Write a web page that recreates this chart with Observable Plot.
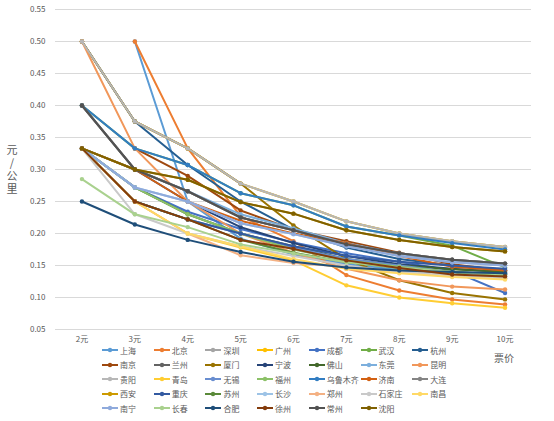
<!DOCTYPE html>
<html>
<head>
<meta charset="utf-8">
<script src="https://cdn.jsdelivr.net/npm/d3@7"></script>
<script src="https://cdn.jsdelivr.net/npm/@observablehq/plot@0.6"></script>
<style>
  html, body { margin: 0; padding: 0; background: #fff; }
  #wrap { position: relative; width: 554px; height: 421px; font-family: "Noto Sans CJK SC", "Noto Sans", sans-serif; color: #595959; overflow: hidden; }
  #chart { position: absolute; left: 0; top: 0; }
  .ytitle { position: absolute; left: 4px; top: 144px; font-size: 11px; writing-mode: vertical-lr; text-orientation: upright; letter-spacing: 2px; color: #595959; }
  .xtitle { position: absolute; left: 494px; top: 350px; font-size: 10px; color: #595959; }
  .leg { position: absolute; display: flex; align-items: center; font-size: 8px; height: 10px; white-space: nowrap; color: #595959; }
  .leg svg { margin-right: 2px; }
</style>
</head>
<body>
<div id="wrap">
  <div id="chart"></div>
  <div class="ytitle">元/公里</div>
  <div class="xtitle">票价</div>
</div>
<script>
// categories
const fares = ["2元", "3元", "4元", "5元", "6元", "7元", "8元", "9元", "10元"];
const yTicks = [0.05, 0.10, 0.15, 0.20, 0.25, 0.30, 0.35, 0.40, 0.45, 0.50, 0.55];
const cities = ["上海","北京","深圳","广州","成都","武汉","杭州",
                "南京","兰州","厦门","宁波","佛山","东莞","昆明",
                "贵阳","青岛","无锡","福州","乌鲁木齐","济南","大连",
                "西安","重庆","苏州","长沙","郑州","石家庄","南昌",
                "南宁","长春","合肥","徐州","常州","沈阳"];
const colors = ["#5B9BD5","#ED7D31","#A5A5A5","#FFC000","#4472C4","#70AD47","#255E91",
                "#9E480E","#636363","#997300","#264478","#43682B","#7CAFDD","#F1975A",
                "#B7B7B7","#FFCD33","#698ED0","#8CC168","#327DC2","#D26012","#848484",
                "#CC9A00","#335AA1","#5A8A39","#9DC3E6","#F4B183","#C9C9C9","#FFD966",
                "#8FAADC","#A9D18E","#1F4E79","#843C0C","#525252","#7F6000"];

// series values (元/公里), one per city, in fare order 2元..10元
const shanghai  = [null, 0.5, 0.25, 0.192, 0.167, 0.152, 0.143, 0.136, 0.132];
const beijing   = [null, 0.5, 0.333, 0.227, 0.188, 0.135, 0.111, 0.097, 0.089];
const shenzhen  = [0.5, 0.375, 0.333, 0.278, 0.25, 0.219, 0.2, 0.188, 0.179];
const guangzhou = [0.5, 0.375, 0.333, 0.278, 0.25, 0.219, 0.2, 0.188, 0.179];
const chengdu   = [0.333, 0.272, 0.234, 0.207, 0.186, 0.169, 0.156, 0.142, 0.107];
const wuhan     = [0.4, 0.333, 0.307, 0.263, 0.244, 0.211, 0.197, 0.181, 0.147];
const hangzhou  = [0.5, 0.375, 0.307, 0.25, 0.206, 0.178, 0.16, 0.15, 0.143];
const nanjing   = [null, 0.333, 0.29, 0.236, 0.206, 0.188, 0.17, 0.152, 0.142];
const lanzhou   = [0.4, 0.3, 0.266, 0.225, 0.205, 0.183, 0.169, 0.159, 0.153];
const xiamen    = [0.5, 0.375, 0.333, 0.278, 0.2125, 0.16, 0.127, 0.107, 0.097];
const ningbo    = [0.333, 0.3, 0.25, 0.21, 0.185, 0.165, 0.152, 0.145, 0.14];
const foshan    = [0.333, 0.272, 0.23, 0.2, 0.18, 0.16, 0.15, 0.144, 0.14];
const dongguan  = [0.333, 0.3, 0.266, 0.23, 0.208, 0.185, 0.168, 0.158, 0.15];
const kunming   = [0.5, 0.333, 0.25, 0.2, 0.17, 0.145, 0.127, 0.117, 0.1125];
const guiyang   = [0.5, 0.375, 0.333, 0.278, 0.25, 0.219, 0.2, 0.188, 0.179];
const qingdao   = [0.333, 0.25, 0.2, 0.178, 0.158, 0.119, 0.1, 0.091, 0.084];
const wuxi      = [0.333, 0.25, 0.222, 0.2, 0.178, 0.16, 0.15, 0.14, 0.135];
const fuzhou    = [0.333, 0.272, 0.23, 0.2, 0.175, 0.158, 0.148, 0.14, 0.135];
const urumqi    = [0.4, 0.333, 0.307, 0.263, 0.244, 0.211, 0.197, 0.185, 0.175];
const jinan     = [0.333, 0.3, 0.25, 0.22, 0.2, 0.185, 0.165, 0.148, 0.142];
const dalian    = [0.4, 0.3, 0.266, 0.225, 0.205, 0.183, 0.169, 0.159, 0.153];
const xian      = [0.333, 0.3, 0.284, 0.249, 0.231, 0.205, 0.19, 0.179, 0.172];
const chongqing = [0.333, 0.25, 0.222, 0.2, 0.18, 0.165, 0.156, 0.15, 0.145];
const suzhou    = [0.333, 0.25, 0.222, 0.19, 0.17, 0.155, 0.146, 0.14, 0.136];
const changsha  = [0.333, 0.272, 0.25, 0.216, 0.199, 0.18, 0.165, 0.155, 0.15];
const zhengzhou = [0.333, 0.25, 0.2, 0.166, 0.154, 0.148, 0.14, 0.135, 0.13];
const shijiazhuang = [0.333, 0.23, 0.2, 0.18, 0.165, 0.15, 0.14, 0.135, 0.13];
const nanchang  = [0.333, 0.25, 0.2, 0.18, 0.16, 0.145, 0.138, 0.132, 0.128];
const nanning   = [0.333, 0.272, 0.25, 0.216, 0.199, 0.18, 0.165, 0.155, 0.15];
const changchun = [0.285, 0.23, 0.21, 0.183, 0.169, 0.155, 0.147, 0.14, 0.136];
const hefei     = [0.25, 0.214, 0.19, 0.171, 0.156, 0.147, 0.142, 0.14, 0.138];
const xuzhou    = [0.333, 0.25, 0.222, 0.19, 0.176, 0.158, 0.146, 0.136, 0.133];
const changzhou = [0.4, 0.3, 0.266, 0.225, 0.205, 0.183, 0.169, 0.159, 0.153];
const shenyang  = [0.333, 0.3, 0.284, 0.249, 0.231, 0.205, 0.19, 0.179, 0.172];

const series = [shanghai, beijing, shenzhen, guangzhou, chengdu, wuhan, hangzhou,
                nanjing, lanzhou, xiamen, ningbo, foshan, dongguan, kunming,
                guiyang, qingdao, wuxi, fuzhou, urumqi, jinan, dalian,
                xian, chongqing, suzhou, changsha, zhengzhou, shijiazhuang, nanchang,
                nanning, changchun, hefei, xuzhou, changzhou, shenyang];

const rows = cities.flatMap((c, i) =>
  fares.map((f, j) => ({city: c, fare: f, v: series[i][j]})).filter(d => d.v != null));

const marks = [
  Plot.gridY(yTicks, {stroke: "#D9D9D9", strokeOpacity: 1, strokeWidth: 1})
];
cities.forEach(c => {
  const d = rows.filter(r => r.city === c);
  marks.push(Plot.line(d, {x: "fare", y: "v", stroke: "city", strokeWidth: 2}));
  marks.push(Plot.dot(d, {x: "fare", y: "v", fill: "city", r: 2.2}));
});

const chart = Plot.plot({
  width: 554,
  height: 345,
  marginLeft: 55,
  marginRight: 23,
  marginTop: 9,
  marginBottom: 16,
  style: {fontFamily: "'Noto Sans CJK SC', 'Noto Sans', sans-serif", fontSize: "8px", color: "#595959", background: "transparent"},
  x: {type: "point", domain: fares, padding: 0.5, round: false, label: null, tickSize: 0, tickPadding: 7},
  y: {domain: [0.05, 0.55], ticks: yTicks, tickFormat: d3.format(".2f"), label: null, tickSize: 0, tickPadding: 10},
  color: {domain: cities, range: colors},
  marks
});
document.getElementById("chart").appendChild(chart);

// legend (HTML, below the svg)
const wrap = document.getElementById("wrap");
cities.forEach((c, i) => {
  const col = i % 7, row = Math.floor(i / 7);
  const el = document.createElement("div");
  el.className = "leg";
  el.style.left = (102 + col * 51.7) + "px";
  el.style.top = (345 + row * 14.5) + "px";
  el.innerHTML = `<svg width="16" height="6"><line x1="0" y1="3" x2="16" y2="3" stroke="${colors[i]}" stroke-width="2"/><circle cx="8" cy="3" r="2.2" fill="${colors[i]}"/></svg><span>${c}</span>`;
  wrap.appendChild(el);
});
</script>
</body>
</html>
